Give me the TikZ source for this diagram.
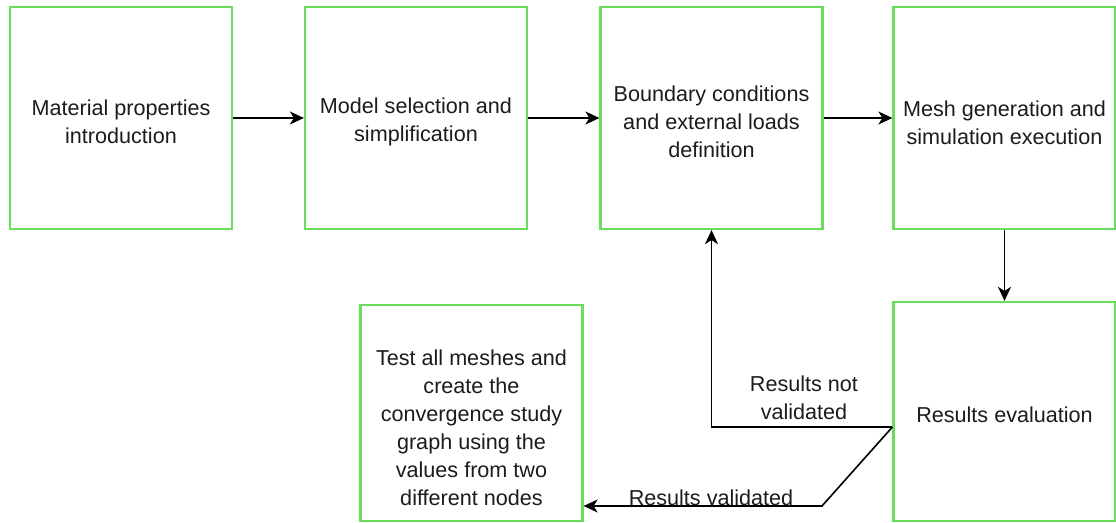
\documentclass[tikz,border=0pt]{standalone}
\usepackage{fontspec}
\setmainfont{Liberation Sans}
\usetikzlibrary{arrows.meta,calc}
\definecolor{boxgreen}{RGB}{104,222,92}
\definecolor{inkgray}{RGB}{28,28,28}
\begin{document}
\begin{tikzpicture}[x=0.5pt,y=-0.5pt,
  lbl/.style={align=center, text=inkgray, inner sep=0pt,
    font=\fontsize{10.8}{14}\selectfont},
  stepbox/.style={draw=boxgreen, line width=1.1pt, fill=white,
    minimum width=111pt, minimum height=111pt, inner sep=0pt},
  conn/.style={draw=black, line width=0.8pt,
    -{Stealth[length=7pt,width=6.5pt,inset=2pt]}}]
\useasboundingbox (0,0) rectangle (1116,523);

% process steps (outlines), with their texts set as centred labels
\node[stepbox, label={[lbl, yshift=-1.8pt]center:{Material properties\\introduction}}] (mat) at (121,118) {};
\node[stepbox, label={[lbl, yshift=-1.8pt]center:{Model selection and\\simplification}}] (mod) at (416,118) {};
\node[stepbox, label={[lbl, yshift=-2pt]center:{Boundary conditions\\and external loads\\definition}}] (bnd) at (711.5,118) {};
\node[stepbox, label={[lbl, yshift=-2.5pt]center:{Mesh generation and\\simulation execution}}] (msh) at (1004.5,118) {};
\node[stepbox, minimum height=109.5pt, label={[lbl, yshift=-1.5pt]center:{Results evaluation}}] (res) at (1004.5,411.5) {};
\node[stepbox, minimum height=108pt, label={[lbl, yshift=-7.5pt]center:{Test all meshes and\\create the\\convergence study\\graph using the\\values from two\\different nodes}}] (tst) at (471.5,413) {};

% main flow
\draw[conn] (mat) -- (mod);
\draw[conn] (mod) -- (bnd);
\draw[conn] (bnd) -- (msh);
\draw[conn] (msh) -- (res);

% decision branches
\coordinate (fork) at ($(res.west)+(0,15.5)$);
\coordinate (bend) at (822,506);
\draw[conn] (fork) -| (bnd.south);
\draw[conn] (fork) -- (bend) -- (bend -| tst.east);

\node[lbl] (nv) at (804,398) {Results not\\validated};
\node[lbl, anchor=base] (ok) at (711,506) {Results validated};
\end{tikzpicture}
\end{document}
